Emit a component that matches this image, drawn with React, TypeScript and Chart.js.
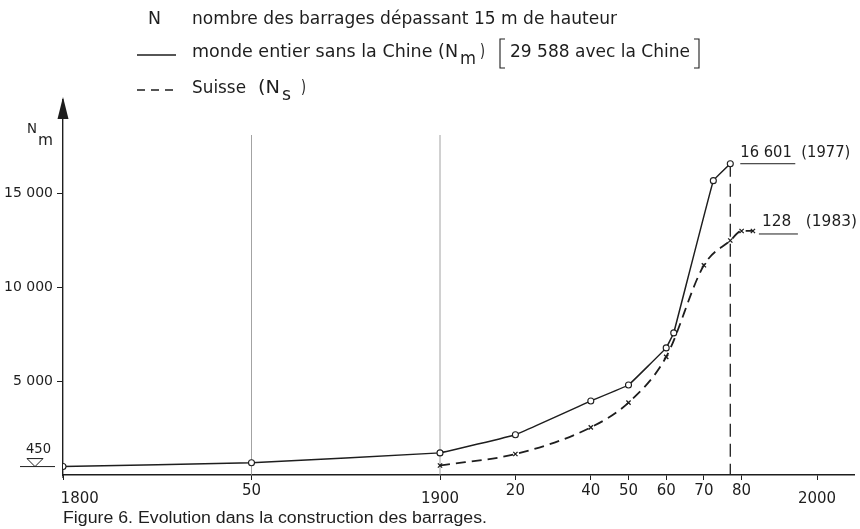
import React, { useEffect, useRef } from 'react';
import { Chart, registerables } from 'chart.js';

Chart.register(...registerables);

// ---- data ----
const worldYears = [1800, 1850, 1900, 1920, 1940, 1950, 1960, 1962, 1972.5, 1977];
const worldDams = [450, 650, 1180, 2150, 3950, 4800, 6780, 7580, 15700, 16601];
const swissYears = [1900, 1920, 1940, 1950, 1960, 1970, 1977, 1980, 1983];
const swissDams = [5, 11, 25, 38, 62, 110, 123, 128, 128];
const xTickValues = [1800, 1850, 1900, 1920, 1940, 1950, 1960, 1970, 1980, 2000];
const xTickLabels = ['       1800', '50', '1900', '20', '40', '50', '60', '70', '80', '2000'];
const xLowLabels = [1800, 1900, 2000];
const yTickValues = [5000, 10000, 15000];
const yTickLabels = ['5 000', '10 000', '15 000'];
const gridYears = [1850, 1900];

const INK = '#1e1e1e';
const SANS = 'DejaVu Sans';

function fitText(ctx: CanvasRenderingContext2D, text: string, x: number, y: number, width: number, font: string) {
  ctx.font = font;
  const w = ctx.measureText(text).width || 1;
  ctx.save();
  ctx.translate(x, y);
  ctx.scale(width / w, 1);
  ctx.textAlign = 'left';
  ctx.textBaseline = 'middle';
  ctx.fillText(text, 0, 0);
  ctx.restore();
}

function seg(ctx: CanvasRenderingContext2D, x1: number, y1: number, x2: number, y2: number) {
  ctx.beginPath();
  ctx.moveTo(x1, y1);
  ctx.lineTo(x2, y2);
  ctx.stroke();
}

const overlay = {
  id: 'overlay',
  beforeDatasetsDraw(chart: any) {
    const { ctx, scales } = chart;
    const x = scales.x, y = scales.y;
    const y0 = y.getPixelForValue(0);
    ctx.save();
    ctx.strokeStyle = '#8c8c8c';
    ctx.lineWidth = 0.8;
    gridYears.forEach((yr) => {
      const px = x.getPixelForValue(yr);
      seg(ctx, px, 135, px, y0);
    });
    ctx.strokeStyle = INK;
    ctx.lineWidth = 1.3;
    ctx.setLineDash([13, 7]);
    const pd = x.getPixelForValue(1977);
    seg(ctx, pd, y.getPixelForValue(16601), pd, y0);
    ctx.restore();
  },
  afterDraw(chart: any) {
    const { ctx, scales } = chart;
    const x = scales.x, y = scales.y, y2 = scales.y2;
    const ax = x.getPixelForValue(1800);
    ctx.save();
    ctx.fillStyle = INK;
    ctx.strokeStyle = INK;

    // arrow head on the y axis
    ctx.beginPath();
    ctx.moveTo(ax, 97);
    ctx.lineTo(ax - 5.5, 119);
    ctx.lineTo(ax + 5.5, 119);
    ctx.closePath();
    ctx.fill();
    ctx.lineWidth = 1.3;
    seg(ctx, ax, y.getPixelForValue(0), ax, 478);

    // N_m axis label
    fitText(ctx, 'N', 27, 129, 10, `14px ${SANS}`);
    fitText(ctx, 'm', 38, 141, 15, `15px ${SANS}`);

    // 450 water-level mark
    const p450 = y.getPixelForValue(450);
    fitText(ctx, '450', 26, p450 - 17, 25, `14px ${SANS}`);
    ctx.lineWidth = 1;
    seg(ctx, 20, p450, 55, p450);
    ctx.beginPath();
    ctx.moveTo(27, p450 - 8);
    ctx.lineTo(43, p450 - 8);
    ctx.lineTo(35, p450);
    ctx.closePath();
    ctx.stroke();

    // end-value annotations
    const p77x = x.getPixelForValue(1977);
    const p77y = y.getPixelForValue(16601);
    fitText(ctx, '16 601  (1977)', p77x + 10, p77y - 11, 110, `15px ${SANS}`);
    ctx.lineWidth = 1;
    seg(ctx, p77x + 10, p77y, p77x + 65, p77y);

    const p83x = x.getPixelForValue(1983);
    const p83y = y2.getPixelForValue(128);
    fitText(ctx, '128   (1983)', p83x + 9, p83y - 9, 95, `15px ${SANS}`);
    seg(ctx, p83x + 6, p83y + 3, p83x + 45, p83y + 3);

    // legend block
    const LF = `17px ${SANS}`;
    fitText(ctx, 'N', 148, 20, 13, LF);
    fitText(ctx, 'nombre des barrages dépassant 15 m de hauteur', 192, 20, 425, LF);

    ctx.lineWidth = 1.3;
    seg(ctx, 137, 55, 176, 55);
    fitText(ctx, 'monde entier sans la Chine (N', 192, 53, 266, LF);
    fitText(ctx, 'm', 460, 60, 16, LF);
    fitText(ctx, ')', 480, 53, 5, LF);
    // bracket
    ctx.lineWidth = 1.1;
    ctx.beginPath();
    ctx.moveTo(505, 39); ctx.lineTo(500, 39); ctx.lineTo(500, 68); ctx.lineTo(505, 68);
    ctx.stroke();
    ctx.beginPath();
    ctx.moveTo(694, 39); ctx.lineTo(699, 39); ctx.lineTo(699, 68); ctx.lineTo(694, 68);
    ctx.stroke();
    fitText(ctx, '29 588 avec la Chine', 510, 53, 180, LF);

    ctx.lineWidth = 1.3;
    ctx.setLineDash([8, 6]);
    seg(ctx, 137, 90, 174, 90);
    ctx.setLineDash([]);
    fitText(ctx, 'Suisse', 192, 89, 54, LF);
    fitText(ctx, '(N', 258, 89, 22, LF);
    fitText(ctx, 's', 282, 96, 9, LF);
    fitText(ctx, ')', 301, 89, 5, LF);

    // caption
    fitText(ctx, 'Figure 6. Evolution dans la construction des barrages.', 63, 519, 424, '16px "Liberation Sans"');
    ctx.restore();
  },
};

export default function App() {
  const ref = useRef<HTMLCanvasElement | null>(null);

  useEffect(() => {
    document.body.style.margin = '0';
    const canvas = ref.current;
    if (!canvas) return;
    const chart = new Chart(canvas, {
      type: 'line',
      data: {
        datasets: [
          {
            label: 'monde entier sans la Chine',
            data: worldYears.map((yr, i) => ({ x: yr, y: worldDams[i] })),
            yAxisID: 'y',
            borderColor: INK,
            borderWidth: 1.5,
            tension: 0.05,
            pointStyle: 'circle',
            pointRadius: 3,
            pointBackgroundColor: '#ffffff',
            pointBorderColor: INK,
            pointBorderWidth: 1.1,
          },
          {
            label: 'Suisse',
            data: swissYears.map((yr, i) => ({ x: yr, y: swissDams[i] })),
            yAxisID: 'y2',
            borderColor: INK,
            borderWidth: 1.8,
            borderDash: [10, 6],
            cubicInterpolationMode: 'monotone',
            pointStyle: 'crossRot',
            pointRadius: 3,
            pointBorderColor: INK,
            pointBorderWidth: 1.3,
          },
        ],
      },
      options: {
        animation: false,
        responsive: false,
        layout: { padding: { top: 100, left: 0, right: 2, bottom: 0 } },
        plugins: { legend: { display: false }, tooltip: { enabled: false } },
        scales: {
          x: {
            type: 'linear',
            min: 1800,
            max: 2010,
            position: 'bottom',
            afterBuildTicks: (s: any) => {
              s.ticks = xTickValues.map((v) => ({ value: v }));
            },
            afterFit: (s: any) => {
              s.height = 54;
            },
            grid: { display: true, drawOnChartArea: false, drawTicks: true, tickLength: 5, color: INK, lineWidth: 1 },
            border: { display: true, color: INK, width: 1.4 },
            ticks: {
              autoSkip: false,
              maxRotation: 0,
              padding: 2,
              color: INK,
              font: (c: any) => ({
                family: SANS,
                size: 15,
                lineHeight: c.tick && xLowLabels.includes(c.tick.value) ? 2.27 : 1.2,
              }),
              callback: (v: any) => {
                const i = xTickValues.indexOf(Number(v));
                return i >= 0 ? xTickLabels[i] : '';
              },
            },
          },
          y: {
            type: 'linear',
            min: 0,
            max: 20000,
            position: 'left',
            afterBuildTicks: (s: any) => {
              s.ticks = yTickValues.map((v) => ({ value: v }));
            },
            afterFit: (s: any) => {
              s.width = 63;
            },
            grid: { display: true, drawOnChartArea: false, drawTicks: true, tickLength: 6, color: INK, lineWidth: 1 },
            border: { display: true, color: INK, width: 1.4 },
            ticks: {
              padding: 4,
              color: INK,
              font: { family: SANS, size: 14 },
              callback: (v: any) => {
                const i = yTickValues.indexOf(Number(v));
                return i >= 0 ? yTickLabels[i] : '';
              },
            },
          },
          y2: {
            type: 'linear',
            min: 0,
            max: 196.7,
            display: false,
          },
        },
      },
      plugins: [overlay],
    } as any);
    return () => chart.destroy();
  }, []);

  return (
    <div style={{ position: 'relative', width: 860, height: 529, background: '#fff' }}>
      <canvas ref={ref} width={860} height={529} style={{ width: 860, height: 529, display: 'block' }} />
    </div>
  );
}
